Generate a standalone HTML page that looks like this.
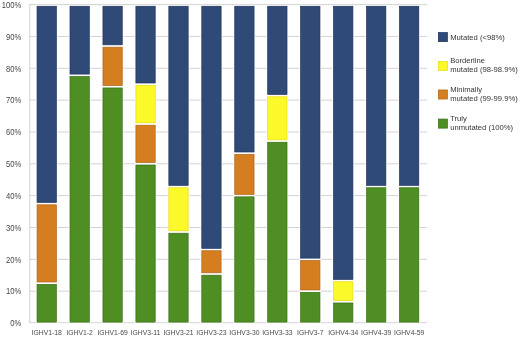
<!DOCTYPE html>
<html><head><meta charset="utf-8"><style>
html,body{margin:0;padding:0;background:#fff;}
body{width:520px;height:337px;overflow:hidden;}
svg{display:block;filter:blur(0.35px);}
text{font-family:"Liberation Sans",sans-serif;}
.xl{font-size:6.8px;fill:#4a4a4a;}
.yl{font-size:8.8px;fill:#474747;}
.lg{font-size:7.65px;fill:#363636;}
</style></head><body>
<svg width="520" height="337" viewBox="0 0 520 337">
<rect width="520" height="337" fill="#fff"/>
<line x1="30" y1="291.16" x2="427" y2="291.16" stroke="#D3D3D3" stroke-width="1"/>
<line x1="30" y1="259.32" x2="427" y2="259.32" stroke="#D3D3D3" stroke-width="1"/>
<line x1="30" y1="227.48" x2="427" y2="227.48" stroke="#D3D3D3" stroke-width="1"/>
<line x1="30" y1="195.64" x2="427" y2="195.64" stroke="#D3D3D3" stroke-width="1"/>
<line x1="30" y1="163.80" x2="427" y2="163.80" stroke="#D3D3D3" stroke-width="1"/>
<line x1="30" y1="131.96" x2="427" y2="131.96" stroke="#D3D3D3" stroke-width="1"/>
<line x1="30" y1="100.12" x2="427" y2="100.12" stroke="#D3D3D3" stroke-width="1"/>
<line x1="30" y1="68.28" x2="427" y2="68.28" stroke="#D3D3D3" stroke-width="1"/>
<line x1="30" y1="36.44" x2="427" y2="36.44" stroke="#D3D3D3" stroke-width="1"/>
<line x1="30" y1="4.60" x2="427" y2="4.60" stroke="#D3D3D3" stroke-width="1"/>
<line x1="29.8" y1="4.10" x2="29.8" y2="323.20" stroke="#D6D6D6" stroke-width="1.1"/>
<line x1="29.3" y1="322.70" x2="427" y2="322.70" stroke="#D6D6D6" stroke-width="1"/>
<rect x="35.90" y="283.05" width="21.60" height="40.45" fill="#fff"/>
<rect x="35.90" y="203.45" width="21.60" height="79.90" fill="#fff"/>
<rect x="35.90" y="4.90" width="21.60" height="198.85" fill="#fff"/>
<rect x="37.05" y="284.40" width="19.30" height="37.75" fill="#4F8E22" stroke="#3A6E16" stroke-width="0.7"/>
<rect x="37.05" y="204.80" width="19.30" height="77.20" fill="#D57E20" stroke="#B0661A" stroke-width="0.7"/>
<rect x="37.05" y="6.25" width="19.30" height="196.15" fill="#304A78" stroke="#1E3158" stroke-width="0.7"/>
<text x="46.70" y="334.8" class="xl" text-anchor="middle">IGHV1-18</text>
<rect x="68.85" y="75.13" width="21.60" height="248.37" fill="#fff"/>
<rect x="68.85" y="4.90" width="21.60" height="70.53" fill="#fff"/>
<rect x="70.00" y="76.48" width="19.30" height="245.67" fill="#4F8E22" stroke="#3A6E16" stroke-width="0.7"/>
<rect x="70.00" y="6.25" width="19.30" height="67.83" fill="#304A78" stroke="#1E3158" stroke-width="0.7"/>
<text x="79.65" y="334.8" class="xl" text-anchor="middle">IGHV1-2</text>
<rect x="101.80" y="86.60" width="21.60" height="236.90" fill="#fff"/>
<rect x="101.80" y="45.84" width="21.60" height="41.06" fill="#fff"/>
<rect x="101.80" y="4.90" width="21.60" height="41.24" fill="#fff"/>
<rect x="102.95" y="87.95" width="19.30" height="234.20" fill="#4F8E22" stroke="#3A6E16" stroke-width="0.7"/>
<rect x="102.95" y="47.19" width="19.30" height="38.36" fill="#D57E20" stroke="#B0661A" stroke-width="0.7"/>
<rect x="102.95" y="6.25" width="19.30" height="38.54" fill="#304A78" stroke="#1E3158" stroke-width="0.7"/>
<text x="112.60" y="334.8" class="xl" text-anchor="middle">IGHV1-69</text>
<rect x="134.75" y="163.65" width="21.60" height="159.85" fill="#fff"/>
<rect x="134.75" y="123.85" width="21.60" height="40.10" fill="#fff"/>
<rect x="134.75" y="84.05" width="21.60" height="40.10" fill="#fff"/>
<rect x="134.75" y="4.90" width="21.60" height="79.45" fill="#fff"/>
<rect x="135.90" y="165.00" width="19.30" height="157.15" fill="#4F8E22" stroke="#3A6E16" stroke-width="0.7"/>
<rect x="135.90" y="125.20" width="19.30" height="37.40" fill="#D57E20" stroke="#B0661A" stroke-width="0.7"/>
<rect x="135.90" y="85.40" width="19.30" height="37.40" fill="#FCF92A" stroke="#E6DC10" stroke-width="0.7"/>
<rect x="135.90" y="6.25" width="19.30" height="76.75" fill="#304A78" stroke="#1E3158" stroke-width="0.7"/>
<text x="145.55" y="334.8" class="xl" text-anchor="middle">IGHV3-11</text>
<rect x="167.70" y="231.88" width="21.60" height="91.62" fill="#fff"/>
<rect x="167.70" y="186.39" width="21.60" height="45.79" fill="#fff"/>
<rect x="167.70" y="4.90" width="21.60" height="181.79" fill="#fff"/>
<rect x="168.85" y="233.23" width="19.30" height="88.92" fill="#4F8E22" stroke="#3A6E16" stroke-width="0.7"/>
<rect x="168.85" y="187.74" width="19.30" height="43.09" fill="#FCF92A" stroke="#E6DC10" stroke-width="0.7"/>
<rect x="168.85" y="6.25" width="19.30" height="179.09" fill="#304A78" stroke="#1E3158" stroke-width="0.7"/>
<text x="178.50" y="334.8" class="xl" text-anchor="middle">IGHV3-21</text>
<rect x="200.65" y="273.87" width="21.60" height="49.63" fill="#fff"/>
<rect x="200.65" y="249.37" width="21.60" height="24.79" fill="#fff"/>
<rect x="200.65" y="4.90" width="21.60" height="244.77" fill="#fff"/>
<rect x="201.80" y="275.22" width="19.30" height="46.93" fill="#4F8E22" stroke="#3A6E16" stroke-width="0.7"/>
<rect x="201.80" y="250.72" width="19.30" height="22.09" fill="#D57E20" stroke="#B0661A" stroke-width="0.7"/>
<rect x="201.80" y="6.25" width="19.30" height="242.07" fill="#304A78" stroke="#1E3158" stroke-width="0.7"/>
<text x="211.45" y="334.8" class="xl" text-anchor="middle">IGHV3-23</text>
<rect x="233.60" y="195.49" width="21.60" height="128.01" fill="#fff"/>
<rect x="233.60" y="153.04" width="21.60" height="42.75" fill="#fff"/>
<rect x="233.60" y="4.90" width="21.60" height="148.44" fill="#fff"/>
<rect x="234.75" y="196.84" width="19.30" height="125.31" fill="#4F8E22" stroke="#3A6E16" stroke-width="0.7"/>
<rect x="234.75" y="154.39" width="19.30" height="40.05" fill="#D57E20" stroke="#B0661A" stroke-width="0.7"/>
<rect x="234.75" y="6.25" width="19.30" height="145.74" fill="#304A78" stroke="#1E3158" stroke-width="0.7"/>
<text x="244.40" y="334.8" class="xl" text-anchor="middle">IGHV3-30</text>
<rect x="266.55" y="140.91" width="21.60" height="182.59" fill="#fff"/>
<rect x="266.55" y="95.42" width="21.60" height="45.79" fill="#fff"/>
<rect x="266.55" y="4.90" width="21.60" height="90.82" fill="#fff"/>
<rect x="267.70" y="142.26" width="19.30" height="179.89" fill="#4F8E22" stroke="#3A6E16" stroke-width="0.7"/>
<rect x="267.70" y="96.77" width="19.30" height="43.09" fill="#FCF92A" stroke="#E6DC10" stroke-width="0.7"/>
<rect x="267.70" y="6.25" width="19.30" height="88.12" fill="#304A78" stroke="#1E3158" stroke-width="0.7"/>
<text x="277.35" y="334.8" class="xl" text-anchor="middle">IGHV3-33</text>
<rect x="299.50" y="291.01" width="21.60" height="32.49" fill="#fff"/>
<rect x="299.50" y="259.17" width="21.60" height="32.14" fill="#fff"/>
<rect x="299.50" y="4.90" width="21.60" height="254.57" fill="#fff"/>
<rect x="300.65" y="292.36" width="19.30" height="29.79" fill="#4F8E22" stroke="#3A6E16" stroke-width="0.7"/>
<rect x="300.65" y="260.52" width="19.30" height="29.44" fill="#D57E20" stroke="#B0661A" stroke-width="0.7"/>
<rect x="300.65" y="6.25" width="19.30" height="251.87" fill="#304A78" stroke="#1E3158" stroke-width="0.7"/>
<text x="310.30" y="334.8" class="xl" text-anchor="middle">IGHV3-7</text>
<rect x="332.45" y="301.62" width="21.60" height="21.88" fill="#fff"/>
<rect x="332.45" y="280.40" width="21.60" height="21.53" fill="#fff"/>
<rect x="332.45" y="4.90" width="21.60" height="275.80" fill="#fff"/>
<rect x="333.60" y="302.97" width="19.30" height="19.18" fill="#4F8E22" stroke="#3A6E16" stroke-width="0.7"/>
<rect x="333.60" y="281.75" width="19.30" height="18.83" fill="#FCF92A" stroke="#E6DC10" stroke-width="0.7"/>
<rect x="333.60" y="6.25" width="19.30" height="273.10" fill="#304A78" stroke="#1E3158" stroke-width="0.7"/>
<text x="343.25" y="334.8" class="xl" text-anchor="middle">IGHV4-34</text>
<rect x="365.40" y="186.39" width="21.60" height="137.11" fill="#fff"/>
<rect x="365.40" y="4.90" width="21.60" height="181.79" fill="#fff"/>
<rect x="366.55" y="187.74" width="19.30" height="134.41" fill="#4F8E22" stroke="#3A6E16" stroke-width="0.7"/>
<rect x="366.55" y="6.25" width="19.30" height="179.09" fill="#304A78" stroke="#1E3158" stroke-width="0.7"/>
<text x="376.20" y="334.8" class="xl" text-anchor="middle">IGHV4-39</text>
<rect x="398.35" y="186.39" width="21.60" height="137.11" fill="#fff"/>
<rect x="398.35" y="4.90" width="21.60" height="181.79" fill="#fff"/>
<rect x="399.50" y="187.74" width="19.30" height="134.41" fill="#4F8E22" stroke="#3A6E16" stroke-width="0.7"/>
<rect x="399.50" y="6.25" width="19.30" height="179.09" fill="#304A78" stroke="#1E3158" stroke-width="0.7"/>
<text x="409.15" y="334.8" class="xl" text-anchor="middle">IGHV4-59</text>
<text transform="translate(21.2,326.30) scale(0.87,1)" class="yl" text-anchor="end">0%</text>
<text transform="translate(21.2,294.46) scale(0.87,1)" class="yl" text-anchor="end">10%</text>
<text transform="translate(21.2,262.62) scale(0.87,1)" class="yl" text-anchor="end">20%</text>
<text transform="translate(21.2,230.78) scale(0.87,1)" class="yl" text-anchor="end">30%</text>
<text transform="translate(21.2,198.94) scale(0.87,1)" class="yl" text-anchor="end">40%</text>
<text transform="translate(21.2,167.10) scale(0.87,1)" class="yl" text-anchor="end">50%</text>
<text transform="translate(21.2,135.26) scale(0.87,1)" class="yl" text-anchor="end">60%</text>
<text transform="translate(21.2,103.42) scale(0.87,1)" class="yl" text-anchor="end">70%</text>
<text transform="translate(21.2,71.58) scale(0.87,1)" class="yl" text-anchor="end">80%</text>
<text transform="translate(21.2,39.74) scale(0.87,1)" class="yl" text-anchor="end">90%</text>
<text transform="translate(21.2,7.90) scale(0.87,1)" class="yl" text-anchor="end">100%</text>
<rect x="438.35" y="32.55" width="9.10" height="9.10" fill="#304A78" stroke="#1E3158" stroke-width="0.7"/>
<text x="450.2" y="39.80" class="lg">Mutated (<98%)</text>
<rect x="438.35" y="61.35" width="9.10" height="9.10" fill="#FCF92A" stroke="#E6DC10" stroke-width="0.7"/>
<text x="450.2" y="63.10" class="lg">Borderline</text>
<text x="450.2" y="72.40" class="lg">mutated (98-98.9%)</text>
<rect x="438.35" y="89.95" width="9.10" height="9.10" fill="#D57E20" stroke="#B0661A" stroke-width="0.7"/>
<text x="450.2" y="91.70" class="lg">Minimally</text>
<text x="450.2" y="101.00" class="lg">mutated (99-99.9%)</text>
<rect x="438.35" y="119.05" width="9.10" height="9.10" fill="#4F8E22" stroke="#3A6E16" stroke-width="0.7"/>
<text x="450.2" y="120.50" class="lg">Truly</text>
<text x="450.2" y="129.80" class="lg">unmutated (100%)</text>
</svg>
</body></html>
